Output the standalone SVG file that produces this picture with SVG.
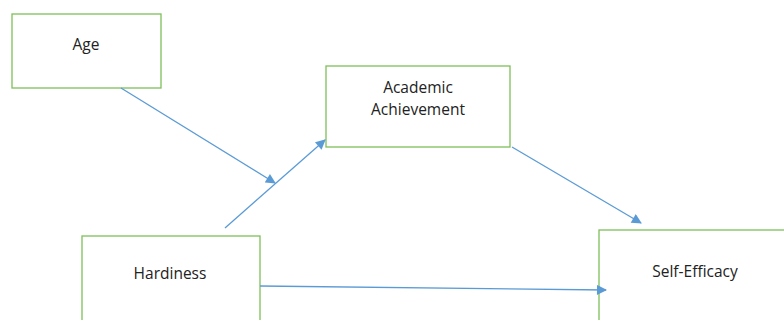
<svg xmlns="http://www.w3.org/2000/svg" width="784" height="320" viewBox="0 0 784 320">
  <style>
    .box { fill: #ffffff; stroke: #7fbf5a; stroke-width: 1.3; }
    .label { font-family: "Open Sans", "Liberation Sans", sans-serif; font-size: 15.5px; fill: #222222; text-anchor: middle; }
    .edge { stroke: #5b9bd5; stroke-width: 1.3; fill: none; marker-end: url(#arrow); }
  </style>
  <defs>
    <marker id="arrow" viewBox="0 0 10 10" refX="9" refY="5" markerWidth="11" markerHeight="10" markerUnits="userSpaceOnUse" orient="auto">
      <path d="M0,0 L10,5 L0,10 Z" fill="#5b9bd5"/>
    </marker>
  </defs>
  <rect width="784" height="320" fill="#ffffff"/>

  <g id="age">
    <rect class="box" x="12" y="14" width="149" height="74"/>
    <text class="label" x="86" y="50">Age</text>
  </g>
  <g id="academic-achievement">
    <rect class="box" x="326" y="66" width="184" height="81"/>
    <text class="label" x="418" y="93">Academic</text>
    <text class="label" x="418" y="115">Achievement</text>
  </g>
  <g id="hardiness">
    <rect class="box" x="82" y="236" width="178" height="90"/>
    <text class="label" x="170" y="279">Hardiness</text>
  </g>
  <g id="self-efficacy">
    <rect class="box" x="599" y="230" width="192" height="96"/>
    <text class="label" x="695" y="277">Self-Efficacy</text>
  </g>

  <!-- connectors drawn last so arrowheads sit over box edges -->
  <g id="connectors">
    <line class="edge" x1="121" y1="88" x2="275" y2="183"/>
    <line class="edge" x1="225" y1="228" x2="325" y2="140"/>
    <line class="edge" x1="512" y1="147" x2="641" y2="223"/>
    <line class="edge" x1="260" y1="286" x2="606" y2="290"/>
  </g>
</svg>
